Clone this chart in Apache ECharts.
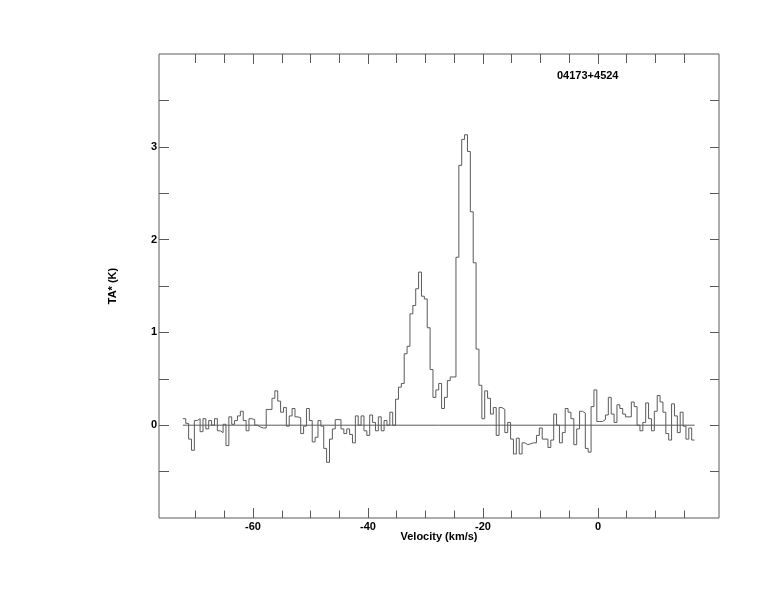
<!DOCTYPE html>
<html>
<head>
<meta charset="utf-8">
<script src="https://cdn.jsdelivr.net/npm/echarts@6/dist/echarts.min.js"></script>
<style>
  html, body { margin: 0; padding: 0; background: #fff; }
  #chart { width: 774px; height: 612px; }
</style>
</head>
<body>
<div id="chart"></div>
<script>
// ---- data ----
const sourceName = '04173+4524';
const velStart = -72.2;      // left edge of first channel (km/s)
const chanWidth = 0.5;       // channel width (km/s)
const ta = [
  0.07, 0.02, -0.15, -0.27, 0.05, 0.07, -0.07, 0.07, -0.04, 0.05,
  0.00, 0.07, -0.06, -0.08, 0.01, -0.22, 0.09, 0.01, 0.05, 0.10,
  0.15, 0.05, -0.06, 0.07, 0.06, 0.00, -0.02, -0.03, -0.03, 0.17,
  0.17, 0.29, 0.37, 0.26, 0.14, 0.19, -0.01, 0.10, 0.18, 0.09,
  0.08, -0.09, -0.01, 0.18, 0.05, -0.18, -0.13, 0.05, -0.01, -0.25,
  -0.40, -0.15, -0.04, 0.06, 0.06, -0.04, -0.09, -0.04, -0.10, -0.19,
  0.10, 0.00, 0.10, -0.06, -0.11, 0.11, 0.03, -0.06, 0.09, -0.06,
  0.05, 0.00, 0.14, 0.00, 0.28, 0.41, 0.45, 0.77, 0.85, 1.20,
  1.29, 1.47, 1.65, 1.39, 1.36, 1.05, 0.60, 0.30, 0.38, 0.45,
  0.18, 0.30, 0.48, 0.52, 0.52, 1.81, 2.80, 3.08, 3.13, 2.95,
  2.30, 1.75, 0.82, 0.43, 0.07, 0.37, 0.29, 0.12, 0.19, -0.11,
  0.19, 0.17, -0.08, 0.03, -0.15, -0.31, -0.14, -0.31, -0.19, -0.21,
  -0.20, -0.19, -0.19, -0.11, -0.03, -0.15, -0.15, -0.24, -0.16, 0.12,
  0.00, -0.19, -0.08, 0.18, 0.14, 0.07, -0.21, -0.04, 0.15, 0.13,
  -0.25, -0.29, 0.20, 0.38, 0.04, 0.04, 0.06, 0.11, 0.30, 0.12,
  0.03, 0.22, 0.18, 0.12, 0.09, 0.09, 0.25, 0.20, 0.00, -0.06,
  0.03, 0.24, 0.07, -0.06, 0.15, 0.32, 0.25, 0.14, -0.09, -0.16,
  0.23, 0.10, -0.08, 0.14, -0.01, -0.15, -0.03, -0.16
];
const xRange = [-76.35, 21.05];
const yRange = [-1, 4];
const xMinorTicks = [-70, -65, -60, -55, -50, -45, -40, -35, -30, -25, -20, -15, -10, -5, 0, 5, 10, 15];
const xMajorTicks = [-60, -40, -20, 0];
const xTickLabels = [-60, -40, -20, 0];
const yTicks = [-0.5, 0, 0.5, 1, 1.5, 2, 2.5, 3, 3.5];
const yTickLabels = [0, 1, 2, 3];
const xTitle = 'Velocity (km/s)';
const yTitle = 'TA* (K)';

// ---- build histogram points (left edge of each channel, plus closing edge) ----
const points = ta.map((t, i) => [velStart + i * chanWidth, t]);
points.push([velStart + ta.length * chanWidth, ta[ta.length - 1]]);
const baseline = [[points[0][0], 0], [points[points.length - 1][0], 0]];

const lineCol = '#5a5a5a';
const fontFam = '"Liberation Sans", Arial, Helvetica, sans-serif';
const lbl = { fontSize: 11, fontWeight: 'bold', color: '#000', fontFamily: fontFam };

function xAx(pos, ticks, len, extra) {
  return Object.assign({
    type: 'value', min: xRange[0], max: xRange[1], position: pos,
    axisLine: { show: false, onZero: false }, splitLine: { show: false },
    axisTick: { show: true, inside: true, length: len, customValues: ticks, lineStyle: { color: lineCol, width: 1 } },
    axisLabel: { show: false }
  }, extra || {});
}
function yAx(pos, len, extra) {
  return Object.assign({
    type: 'value', min: yRange[0], max: yRange[1], position: pos,
    axisLine: { show: false, onZero: false }, splitLine: { show: false },
    axisTick: { show: true, inside: true, length: len, customValues: yTicks, lineStyle: { color: lineCol, width: 1 } },
    axisLabel: { show: false }
  }, extra || {});
}

const chart = echarts.init(document.getElementById('chart'), null, { renderer: 'canvas' });
chart.setOption({
  animation: false,
  backgroundColor: '#fff',
  grid: { left: 159, top: 54, width: 560, height: 464, show: true, borderColor: lineCol, borderWidth: 1, backgroundColor: 'transparent' },
  xAxis: [
    xAx('bottom', xMinorTicks, 7.5, {
      axisLabel: Object.assign({ show: true, customValues: xTickLabels, margin: 3, formatter: v => String(v) }, lbl),
      name: xTitle, nameLocation: 'middle', nameGap: 13, nameMoveOverlap: false,
      nameTextStyle: lbl
    }),
    xAx('bottom', xMajorTicks, 10),
    xAx('top', xMinorTicks, 9),
    xAx('top', xMajorTicks, 10)
  ],
  yAxis: [
    yAx('left', 10, {
      axisLabel: Object.assign({ show: true, customValues: yTickLabels, margin: 2, formatter: v => String(v) }, lbl),
      name: yTitle, nameLocation: 'middle', nameGap: 41, nameRotate: 90, nameMoveOverlap: false,
      nameTextStyle: lbl
    }),
    yAx('right', 9)
  ],
  graphic: [{
    type: 'text', left: 557, top: 70,
    style: { text: sourceName, font: 'bold 11px ' + fontFam, fill: '#000' }
  }],
  series: [
    {
      type: 'line', xAxisIndex: 0, yAxisIndex: 0, data: baseline,
      showSymbol: false, lineStyle: { color: lineCol, width: 1 }, silent: true
    },
    {
      type: 'line', xAxisIndex: 0, yAxisIndex: 0, data: points, step: 'end',
      showSymbol: false, lineStyle: { color: lineCol, width: 1 }, silent: true
    }
  ]
});
</script>
</body>
</html>
